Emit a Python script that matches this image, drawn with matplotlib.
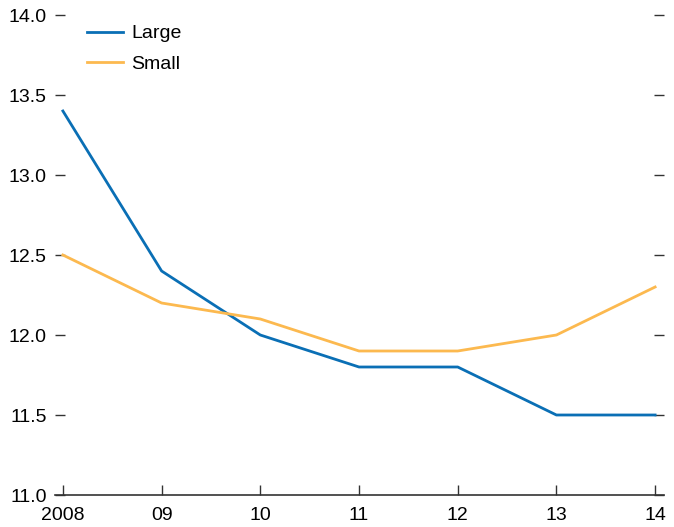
import matplotlib
matplotlib.use("Agg")
import matplotlib.pyplot as plt

years = [2008, 2009, 2010, 2011, 2012, 2013, 2014]
xlabels = ["2008", "09", "10", "11", "12", "13", "14"]
large = [13.4, 12.4, 12.0, 11.8, 11.8, 11.5, 11.5]
small = [12.5, 12.2, 12.1, 11.9, 11.9, 12.0, 12.3]
yticks = [11.0, 11.5, 12.0, 12.5, 13.0, 13.5, 14.0]

plt.rcParams['font.family'] = ['Liberation Sans', 'DejaVu Sans']

fig = plt.figure(figsize=(6.74, 5.27), dpi=100)
ax = fig.add_axes([55/674, 32/527, (664-55)/674, (495-15)/527])

ax.plot(years, large, color="#0a6fb5", lw=2, label="Large")
ax.plot(years, small, color="#fcb94f", lw=2, label="Small")

ax.set_xlim(2007.92, 2014.09)
ax.set_ylim(11.0, 14.0)
ax.set_xticks(years)
ax.set_xticklabels(xlabels)
ax.set_yticks(yticks)
ax.set_yticklabels([f"{v:.1f}" for v in yticks])

for s in ["left", "right", "top"]:
    ax.spines[s].set_visible(False)
ax.spines["bottom"].set_color("#333333")
ax.spines["bottom"].set_linewidth(1.2)

ax.tick_params(axis="x", direction="in", length=7, width=1, colors="#333333",
               labelcolor="black", labelsize=14, pad=8.5)
ax.tick_params(axis="y", direction="in", length=7, width=1, colors="#333333",
               labelcolor="black", labelsize=14, pad=6, right=True)

leg = ax.legend(loc="upper left", bbox_to_anchor=(0.023, 1.016), frameon=False,
                fontsize=14, handlelength=1.9, handletextpad=0.4, labelspacing=0.66)

fig.savefig("out.png", dpi=100)
